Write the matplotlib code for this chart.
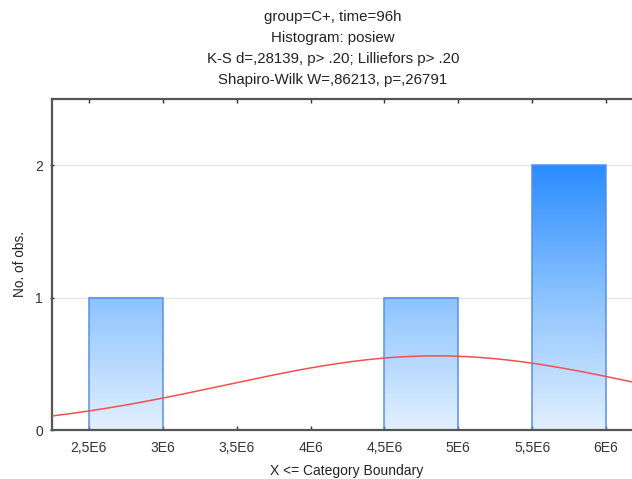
import numpy as np
import matplotlib
matplotlib.use("Agg")
import matplotlib.pyplot as plt
import matplotlib.patches as patches
from matplotlib.colors import LinearSegmentedColormap

plt.rcParams['font.family'] = ['Liberation Sans', 'DejaVu Sans']

# histogram data (category boundaries and counts)
bin_edges = [2.5e6, 3.0e6, 3.5e6, 4.0e6, 4.5e6, 5.0e6, 5.5e6, 6.0e6]
counts = [1, 0, 0, 0, 1, 0, 2]
tick_values = [2.5e6, 3.0e6, 3.5e6, 4.0e6, 4.5e6, 5.0e6, 5.5e6, 6.0e6]
tick_labels = ["2,5E6", "3E6", "3,5E6", "4E6", "4,5E6", "5E6", "5,5E6", "6E6"]

# fitted normal curve parameters
n_obs = 4
fit_mean = 4.85e6
fit_sd = 1.425e6

title_lines = ["group=C+, time=96h",
               "Histogram: posiew",
               "K-S d=,28139, p> .20; Lilliefors p> .20",
               "Shapiro-Wilk W=,86213, p=,26791"]

W, H = 632, 479
fig = plt.figure(figsize=(W / 100, H / 100), dpi=100)
ax = fig.add_axes([52 / W, 1 - 430 / H, 1 - 52 / W, (430 - 99) / H])

x_lo, x_hi = 2.25e6, 6.176e6

# light horizontal grid
for yv in [1, 2]:
    ax.axhline(yv, color='#e6e6e6', lw=1.0, zorder=0)

# gradient bars: dark blue at y=2, pale at y=0
cmap = LinearSegmentedColormap.from_list('bars', ['#e2f0ff', '#8cc3ff', '#2a8cff'])
grad = np.linspace(0, 1, 256).reshape(-1, 1)
for i, c in enumerate(counts):
    if c == 0:
        continue
    x0, x1 = bin_edges[i], bin_edges[i + 1]
    ax.imshow(grad * c, extent=(x0, x1, 0, c), origin='lower', cmap=cmap,
              vmin=0, vmax=2, aspect='auto', zorder=1, interpolation='bilinear')
    rect = patches.Rectangle((x0, 0), x1 - x0, c, fill=False,
                             edgecolor='#5a8fe8', lw=1.1, zorder=2)
    ax.add_patch(rect)

# expected normal curve
bw = bin_edges[1] - bin_edges[0]
xs = np.linspace(x_lo, x_hi, 400)
ys = n_obs * bw / (fit_sd * np.sqrt(2 * np.pi)) * np.exp(-0.5 * ((xs - fit_mean) / fit_sd) ** 2)
ax.plot(xs, ys, color='#f05050', lw=1.1, zorder=3)

ax.set_xlim(x_lo, x_hi)
ax.set_ylim(0, 2.5)

# axes styling
for s in ['left', 'bottom', 'top']:
    ax.spines[s].set_color('#555555')
    ax.spines[s].set_linewidth(1.6)
ax.spines['right'].set_visible(False)

ax.set_xticks(tick_values)
ax.set_xticklabels(tick_labels)
ax.set_yticks([0, 1, 2])
ax.set_yticklabels(['0', '1', '2'])
ax.tick_params(axis='x', top=True, direction='in', length=3, width=1,
               color='#333333', labelsize=10, labelcolor='#333333', pad=8)
ax.tick_params(axis='y', direction='inout', length=3, width=1,
               color='#333333', labelsize=10, labelcolor='#333333', pad=5)

# title block
for k, line in enumerate(title_lines):
    fig.text(333 / W, 1 - (17 + 21 * k) / H, line, ha='center', va='center',
             fontsize=10.8, color='#222222')

fig.text(347 / W, 1 - 471 / H, "X <= Category Boundary", ha='center', va='center',
         fontsize=10, color='#222222')
fig.text(20 / W, 1 - 264 / H, "No. of obs.", ha='center', va='center',
         rotation=90, fontsize=9.8, color='#222222')

fig.savefig('out.png', dpi=100)
